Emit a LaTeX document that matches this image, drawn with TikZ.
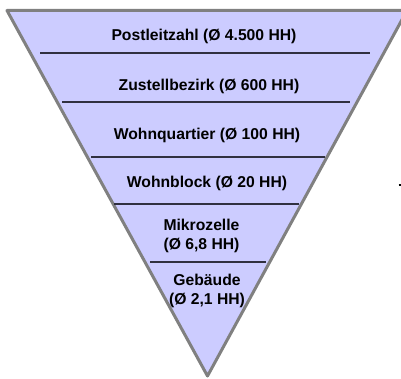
\documentclass[tikz,border=0pt]{standalone}
\usepackage{fontspec}
\setmainfont{Liberation Sans}
\definecolor{funnelfill}{HTML}{CCCCFF}
\definecolor{funnelborder}{HTML}{808080}
\definecolor{divider}{HTML}{303040}
\begin{document}
\begin{tikzpicture}[x=1pt,y=-1pt,
  lbl/.style={anchor=base,font=\fontsize{15.7}{19}\selectfont\bfseries,align=center,inner sep=0pt},
  divline/.style={draw=divider,line width=1.5pt},
  funnel/.style={fill=funnelfill,draw=funnelborder,line width=3pt,line join=round}]
\useasboundingbox (0,0) rectangle (401,379);
\begin{scope}
\clip (0,0) rectangle (401,379);
\path[funnel] (7,10.5) -- (407,10.5) -- (207.5,376) -- cycle;
\end{scope}
\draw[divline] (40,53) -- (370,53);
\draw[divline] (62,102) -- (350,102);
\draw[divline] (91,157) -- (325,157);
\draw[divline] (114,204) -- (299,204);
\draw[divline] (150,262) -- (266,262);
\node[lbl] (plz) at (204,41) {Postleitzahl (Ø 4.500 HH)};
\node[lbl] (zb) at (209,91) {Zustellbezirk (Ø 600 HH)};
\node[lbl] (wq) at (207,140) {Wohnquartier (Ø 100 HH)};
\node[lbl] (wb) at (207,188) {Wohnblock (Ø 20 HH)};
\node[lbl,anchor=north] (mz) at (201.5,219) {Mikrozelle\\(Ø 6,8 HH)};
\node[lbl,anchor=north] (gb) at (207,274) {Gebäude\\(Ø 2,1 HH)};
\draw[black,line width=1.5pt] (398.5,185) -- (401,185);
\end{tikzpicture}
\end{document}
